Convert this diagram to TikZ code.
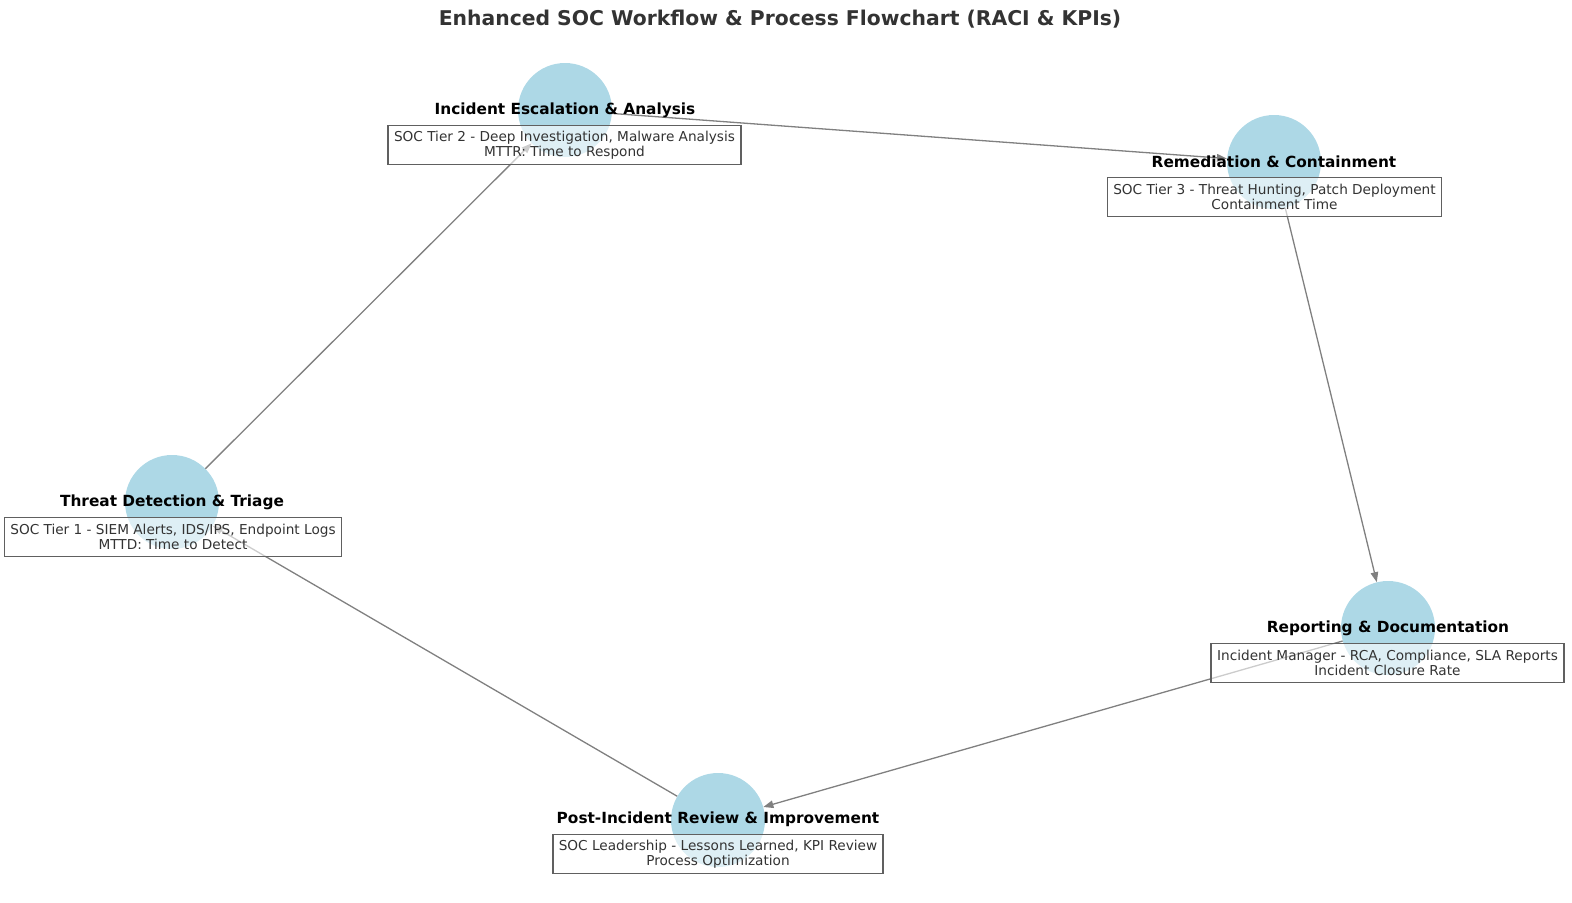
\documentclass[tikz,border=0pt]{standalone}
\usepackage{fontspec}
\setmainfont{DejaVu Sans}
\usetikzlibrary{arrows.meta}
\definecolor{nodeblue}{HTML}{ADD8E6}
\definecolor{textgrey}{HTML}{333333}
\definecolor{edgegrey}{HTML}{808080}
\definecolor{boxgrey}{HTML}{606060}

\begin{document}
\begin{tikzpicture}[x=1bp, y=-1bp,
	stage/.style={circle, fill=nodeblue, minimum size=94bp, inner sep=0pt},
	flow/.style={draw=edgegrey, line width=1.3bp, -{Triangle[length=10bp,width=7.5bp]}},
	stagelabel/.style={font=\fontsize{15.4}{18}\selectfont\bfseries, text=black},
	infobox/.style={draw=boxgrey, line width=1.5bp, fill=white, fill opacity=0.6, text opacity=1, text=textgrey, align=center, font=\fontsize{13.7}{14.6}\selectfont, inner xsep=6bp, inner ysep=0pt, minimum height=39bp}]
			%%%%% START %%%%%
			
			\useasboundingbox (0, 0) rectangle (1572, 902);
			
			\node[font=\fontsize{20.4}{24}\selectfont\bfseries, text=textgrey] (title) at (780, 19) {Enhanced SOC Workflow \& Process Flowchart (RACI \& KPIs)};
			
			% stages
			\node[stage] (threat) at (172, 502) {};
			\node[stage] (escal) at (565, 110) {};
			\node[stage] (remed) at (1274, 162) {};
			\node[stage] (report) at (1388, 628) {};
			\node[stage] (review) at (718, 820) {};
			
			% workflow
			\draw[flow] (threat) -- (escal);
			\draw[flow] (escal) -- (remed);
			\draw[flow] (remed) -- (report);
			\draw[flow] (report) -- (review);
			\draw[flow] (review) -- (threat);
			
			% RACI & KPI boxes
			\node[infobox] (threatbox) at (173, 537) {SOC Tier 1 - SIEM Alerts, IDS/IPS, Endpoint Logs\\MTTD: Time to Detect};
			\node[infobox] (escalbox) at (564.5, 145) {SOC Tier 2 - Deep Investigation, Malware Analysis\\MTTR: Time to Respond};
			\node[infobox] (remedbox) at (1274.5, 197) {SOC Tier 3 - Threat Hunting, Patch Deployment\\Containment Time};
			\node[infobox] (reportbox) at (1387.5, 663) {Incident Manager - RCA, Compliance, SLA Reports\\Incident Closure Rate};
			\node[infobox] (reviewbox) at (718, 854) {SOC Leadership - Lessons Learned, KPI Review\\Process Optimization};
			
			\node[stagelabel] (threatlbl) at (172, 502) {Threat Detection \& Triage};
			\node[stagelabel] (escallbl) at (565, 110) {Incident Escalation \& Analysis};
			\node[stagelabel] (remedlbl) at (1274, 162) {Remediation \& Containment};
			\node[stagelabel] (reportlbl) at (1388, 628) {Reporting \& Documentation};
			\node[stagelabel] (reviewlbl) at (718, 819) {Post-Incident Review \& Improvement};
			
			%%%%% END %%%%%
\end{tikzpicture}
\end{document}
